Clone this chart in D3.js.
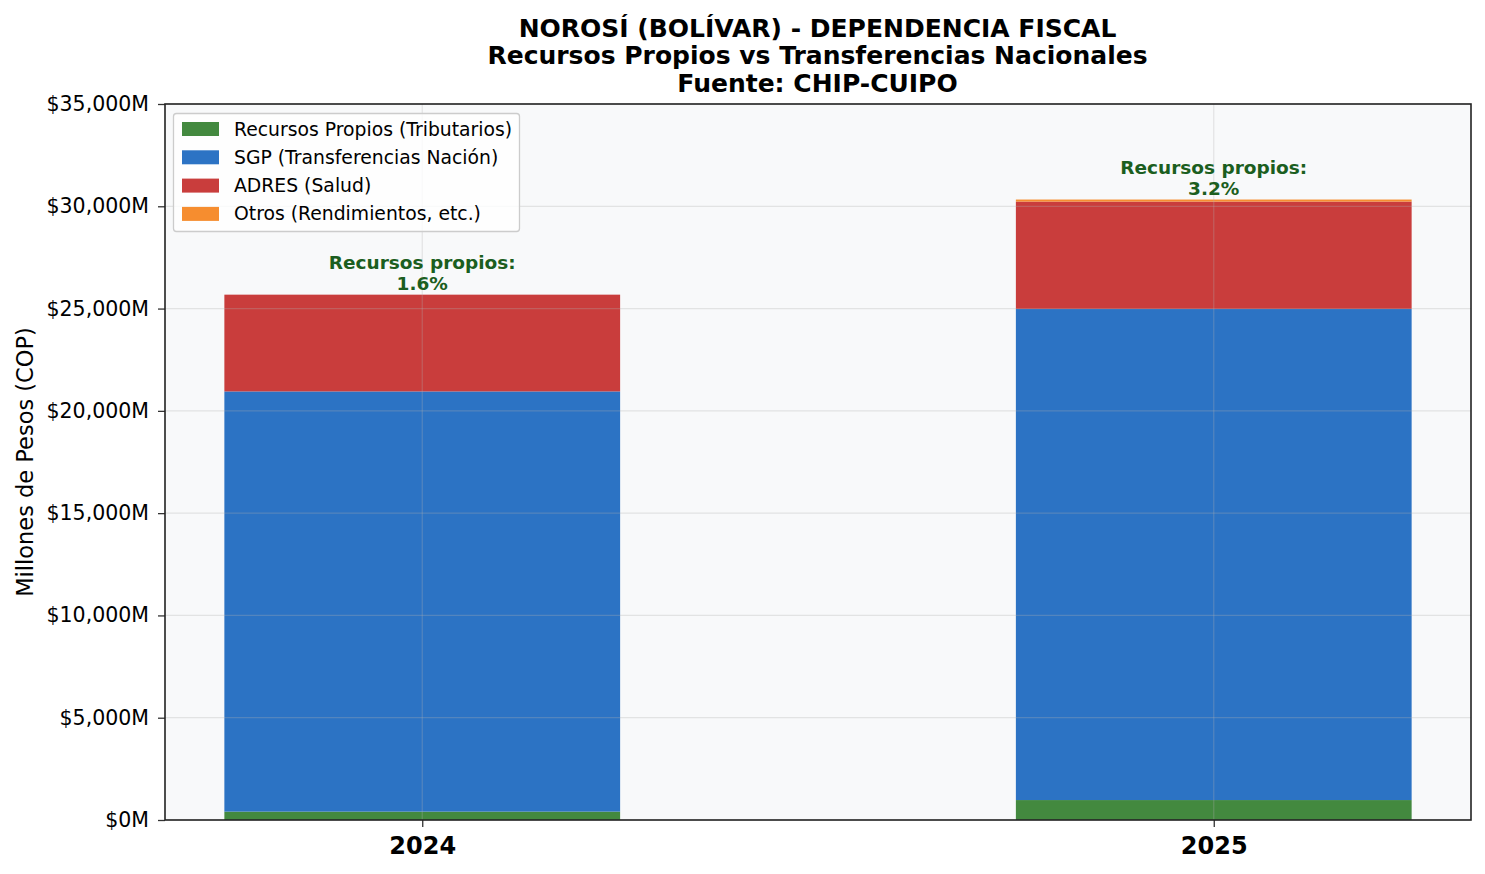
<!DOCTYPE html>
<html>
<head>
<meta charset="utf-8">
<script src="https://cdn.jsdelivr.net/npm/d3@7/dist/d3.min.js"></script>
<style>
  html, body { margin: 0; padding: 0; background: #ffffff; }
  svg { display: block; font-family: "DejaVu Sans", sans-serif; }
</style>
</head>
<body>
<svg id="chart" width="1485" height="874"></svg>
<script>
// ---- data ----
const years = ["2024", "2025"];
const seriesNames = ["Recursos Propios (Tributarios)", "SGP (Transferencias Nación)", "ADRES (Salud)", "Otros (Rendimientos, etc.)"];
const propios = [410, 975];
const sgp = [20540, 24005];
const adres = [4730, 5250];
const otros = [0, 100];
const pctLabels = ["1.6%", "3.2%"];
const yTicks = [0, 5000, 10000, 15000, 20000, 25000, 30000, 35000];
const titleLines = ["NOROSÍ (BOLÍVAR) - DEPENDENCIA FISCAL", "Recursos Propios vs Transferencias Nacionales", "Fuente: CHIP-CUIPO"];
const colors = ["#43893f", "#2c73c4", "#c93d3c", "#f68d2f"];

const svg = d3.select("#chart");
const m = { left: 165, right: 1471, top: 104, bottom: 820 };

const x = d3.scaleLinear().domain([-0.325, 1.325]).range([m.left, m.right]);
const y = d3.scaleLinear().domain([0, 35000]).range([m.bottom, m.top]);
const barW = x(0.5) - x(0);

// plot background
svg.append("rect").attr("x", m.left).attr("y", m.top)
  .attr("width", m.right - m.left).attr("height", m.bottom - m.top)
  .attr("fill", "#f8f9fa");

// stacked bars
const rows = years.map((yr, i) => ({ year: yr, i, vals: [propios[i], sgp[i], adres[i], otros[i]] }));
const stackData = rows.map(r => { const o = { year: r.year, i: r.i }; seriesNames.forEach((s, k) => o[s] = r.vals[k]); return o; });
const stack = d3.stack().keys(seriesNames)(stackData);

stack.forEach((layer, k) => {
  svg.append("g").selectAll("rect").data(layer).join("rect")
    .attr("x", d => x(d.data.i) - barW / 2)
    .attr("width", barW)
    .attr("y", d => y(d[1]))
    .attr("height", d => Math.max(0, y(d[0]) - y(d[1])))
    .attr("fill", colors[k]);
});

// grid (drawn over bars)
const grid = svg.append("g");
grid.selectAll("line.h").data(yTicks).join("line")
  .attr("x1", m.left).attr("x2", m.right)
  .attr("y1", d => y(d)).attr("y2", d => y(d))
  .attr("stroke", "#b0b0b0").attr("stroke-opacity", 0.3).attr("stroke-width", 1.2);
grid.selectAll("line.v").data(years.map((d, i) => i)).join("line")
  .attr("y1", m.top).attr("y2", m.bottom)
  .attr("x1", d => x(d)).attr("x2", d => x(d))
  .attr("stroke", "#b0b0b0").attr("stroke-opacity", 0.3).attr("stroke-width", 1.2);

// annotations
rows.forEach((r, i) => {
  const total = r.vals.reduce((a, b) => a + b, 0);
  const g = svg.append("g").attr("font-weight", "bold").attr("font-size", 18.5)
    .attr("fill", "#1b5e20").attr("text-anchor", "middle");
  g.append("text").attr("x", x(i)).attr("y", y(total) - 26).text("Recursos propios:");
  g.append("text").attr("x", x(i)).attr("y", y(total) - 4.5).text(pctLabels[i]);
});

// axes
const yAxis = d3.axisLeft(y).tickValues(yTicks).tickSize(7).tickPadding(9)
  .tickFormat(d => "$" + d3.format(",")(d) + "M");
const gy = svg.append("g").attr("transform", `translate(${m.left},0)`).call(yAxis);
gy.select(".domain").remove();
gy.selectAll("line").attr("stroke", "#333").attr("stroke-width", 1.3);
gy.selectAll("text").attr("font-size", 20.5).attr("font-family", "DejaVu Sans").attr("fill", "#000");

const xAxis = d3.axisBottom(x).tickValues([0, 1]).tickSize(7).tickPadding(10)
  .tickFormat(d => years[d]);
const gx = svg.append("g").attr("transform", `translate(0,${m.bottom})`).call(xAxis);
gx.select(".domain").remove();
gx.selectAll("line").attr("stroke", "#333").attr("stroke-width", 1.3);
gx.selectAll("text").attr("font-size", 24).attr("font-weight", "bold").attr("font-family", "DejaVu Sans").attr("fill", "#000");

// frame
svg.append("rect").attr("x", m.left).attr("y", m.top)
  .attr("width", m.right - m.left).attr("height", m.bottom - m.top)
  .attr("fill", "none").attr("stroke", "#222").attr("stroke-width", 1.6);

// y label
svg.append("text").attr("transform", `translate(33,${(m.top + m.bottom) / 2}) rotate(-90)`)
  .attr("text-anchor", "middle").attr("font-size", 22.5).attr("fill", "#000")
  .text("Millones de Pesos (COP)");

// title
const tb = [36.5, 64, 91.5];
titleLines.forEach((t, i) => {
  svg.append("text").attr("x", (m.left + m.right) / 2 - 0.5).attr("y", tb[i])
    .attr("text-anchor", "middle").attr("font-weight", "bold").attr("font-size", 25)
    .attr("fill", "#000").text(t);
});

// legend
const lg = svg.append("g");
lg.append("rect").attr("x", 173.5).attr("y", 113.5).attr("width", 346).attr("height", 118)
  .attr("rx", 3).attr("fill", "#ffffff").attr("fill-opacity", 0.8)
  .attr("stroke", "#cccccc").attr("stroke-width", 1.3);
seriesNames.forEach((s, k) => {
  const cy = 129 + k * 28.3;
  lg.append("rect").attr("x", 182).attr("y", cy - 7).attr("width", 37).attr("height", 14).attr("fill", colors[k]);
  lg.append("text").attr("x", 234).attr("y", cy).attr("dy", "0.35em")
    .attr("font-size", 18.8).attr("fill", "#000").text(s);
});
</script>
</body>
</html>
